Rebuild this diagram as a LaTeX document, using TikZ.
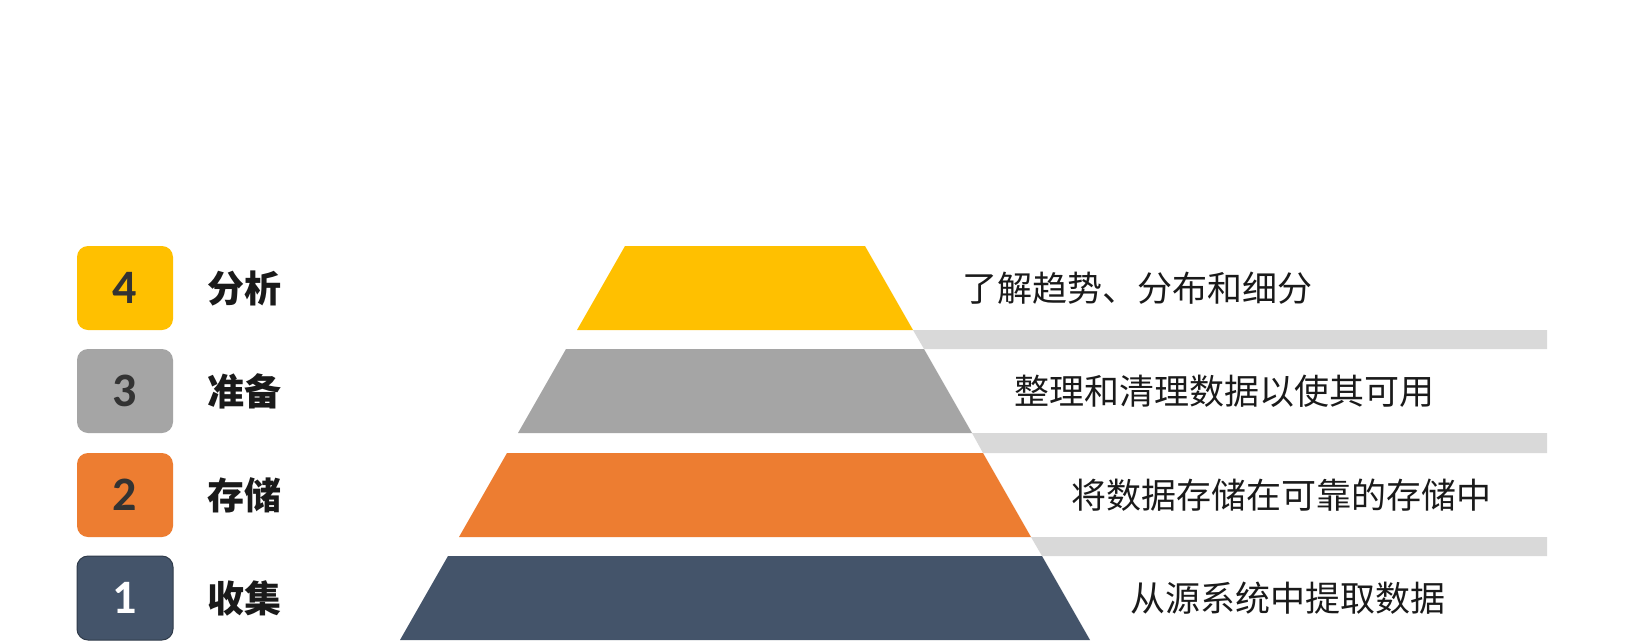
\documentclass[tikz,border=0pt]{standalone}
\usepackage{fontspec}
\setmainfont{Carlito}
\newfontfamily\cjk{Noto Sans CJK SC}
\definecolor{cyellow}{HTML}{FFC000}
\definecolor{cgray}{HTML}{A5A5A5}
\definecolor{corange}{HTML}{ED7D31}
\definecolor{cnavy}{HTML}{44546A}
\definecolor{cbar}{HTML}{D9D9D9}
\definecolor{cnum}{HTML}{333333}
\definecolor{ctext}{HTML}{1A1A1A}
\tikzset{
  numbox/.style={draw=none, rounded corners=11pt, minimum width=96pt, minimum height=84pt, inner sep=0pt,
    font=\bfseries\fontsize{48}{48}\selectfont, text=cnum},
  lbl/.style={font=\cjk\bfseries\fontsize{37}{37}\selectfont, text=ctext, inner sep=0pt},
  desc/.style={font=\cjk\fontsize{35}{35}\selectfont, text=ctext, inner sep=0pt, anchor=west},
  barfill/.style={fill=cbar}
}
\begin{document}
\begin{tikzpicture}[x=1pt,y=-1pt]
\useasboundingbox[fill=white] (0,0) rectangle (1627,640);
% grey separator bars
\fill[barfill] (913,330) -- (1547,330) -- (1547,349) -- (924,349) -- cycle;
\fill[barfill] (972,433) -- (1547,433) -- (1547,453) -- (983,453) -- cycle;
\fill[barfill] (1031,537) -- (1547,537) -- (1547,556) -- (1042,556) -- cycle;
% pyramid tiers
\fill[cyellow] (625,246) -- (865,246) -- (913,330) -- (577,330) -- cycle;
\fill[cgray]   (566,349) -- (924,349) -- (972,433) -- (518,433) -- cycle;
\fill[corange] (507,453) -- (983,453) -- (1031,537) -- (459,537) -- cycle;
\fill[cnavy]   (448,556) -- (1042,556) -- (1090,640) -- (400,640) -- cycle;
% number boxes
\node[numbox, fill=cyellow] (n4) at (125,288) {4};
\node[numbox, fill=cgray]   (n3) at (125,391) {3};
\node[numbox, fill=corange] (n2) at (125,495) {2};
\node[numbox, fill=cnavy, draw=cnavy!70!black, line width=1pt, text=white] (n1) at (125,598) {1};
% stage labels
\node[lbl] (l4) at (244,288) {分析};
\node[lbl] (l3) at (244,391) {准备};
\node[lbl] (l2) at (244,495) {存储};
\node[lbl] (l1) at (244,598) {收集};
% descriptions
\node[desc] (d4) at (962,288) {了解趋势、分布和细分};
\node[desc] (d3) at (1014,391) {整理和清理数据以使其可用};
\node[desc] (d2) at (1071,495) {将数据存储在可靠的存储中};
\node[desc] (d1) at (1130,598) {从源系统中提取数据};
\end{tikzpicture}
\end{document}
